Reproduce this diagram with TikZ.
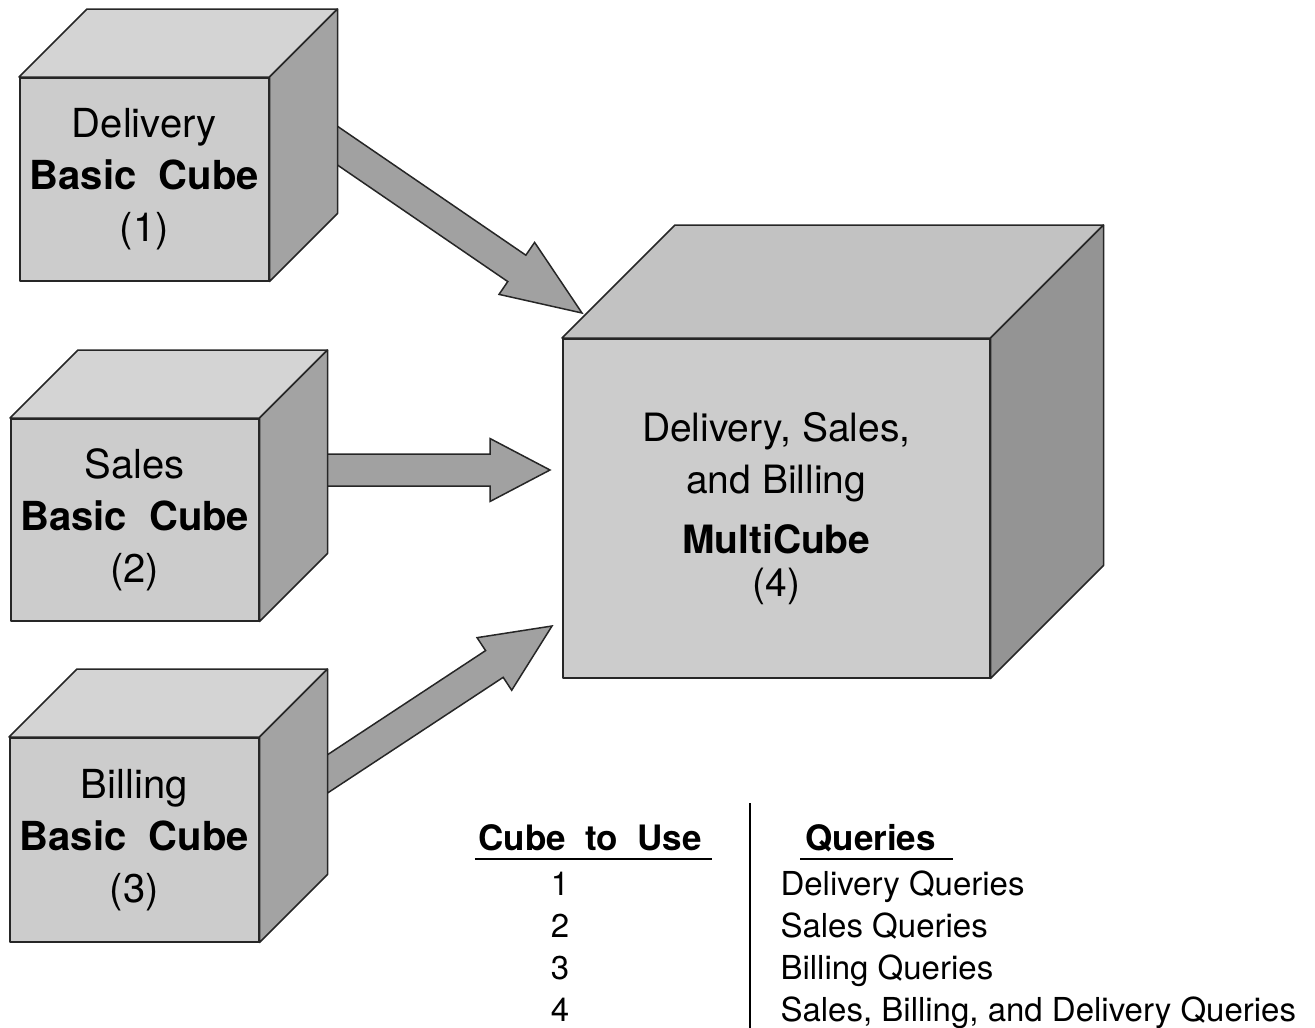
\documentclass[tikz,border=0pt]{standalone}
\usepackage{fontspec}
\setmainfont{TeX Gyre Heros}
\usetikzlibrary{calc}

\definecolor{cubefront}{gray}{0.80}
\definecolor{cubetop}{gray}{0.83}
\definecolor{cubeside}{gray}{0.64}
\definecolor{bigtop}{gray}{0.76}
\definecolor{bigside}{gray}{0.58}
\definecolor{arrowfill}{gray}{0.63}

% top and right faces of a cube, hung on the front face node
\newcommand\cubefaces[4]{% node, depth, top colour, side colour
  \draw[face,fill=#3] (#1.north west) -- ++(#2,-#2) -- ($(#1.north east)+(#2,-#2)$) -- (#1.north east) -- cycle;
  \draw[face,fill=#4] (#1.north east) -- ++(#2,-#2) -- ($(#1.south east)+(#2,-#2)$) -- (#1.south east) -- cycle;}

% fat arrow from tail to tip, #3 = head length
\newcommand\blockarrow[3]{%
  \coordinate (#1-b) at ($(#2)!#3!(#1)$);
  \draw[arrowbody] ($(#1)!16pt!90:(#2)$) -- ($(#1-b)!16pt!-90:(#1)$) -- ($(#1-b)!31.5pt!-90:(#1)$)
    -- (#2) -- ($(#1-b)!31.5pt!90:(#1)$) -- ($(#1-b)!16pt!90:(#1)$) -- ($(#1)!16pt!-90:(#2)$) -- cycle;}

\begin{document}
\begin{tikzpicture}[x=1pt,y=-1pt,
  face/.style={draw=black!85,line width=1.5pt,line join=round},
  frontface/.style={face,fill=cubefront,inner sep=0pt,align=center,anchor=north west,
    font=\fontsize{40}{52}\selectfont},
  arrowbody/.style={draw=black!85,line width=1.5pt,fill=arrowfill},
  colhead/.style={font=\fontsize{35}{42}\selectfont\bfseries,anchor=base},
  row/.style={font=\fontsize{33}{40}\selectfont,anchor=base}]

\useasboundingbox (0,0) rectangle (1315,1028);

% arrows first, the tails sit behind the cubes
\coordinate (del_out) at (300,120);
\coordinate (sal_out) at (310,470);
\coordinate (bil_out) at (300,792);
\coordinate (multi_in1) at (582,313);
\coordinate (multi_in2) at (550,470);
\coordinate (multi_in3) at (552,626);
\blockarrow{del_out}{multi_in1}{79pt}
\blockarrow{sal_out}{multi_in2}{60pt}
\blockarrow{bil_out}{multi_in3}{69pt}

% basic cubes
\node[frontface,minimum width=249pt,minimum height=203pt] (delivery) at (19,77)
  {Delivery\\\textbf{Basic\ \ Cube}\\(1)};
\cubefaces{delivery}{68}{cubetop}{cubeside}
\node[frontface,minimum width=248pt,minimum height=202pt] (sales) at (10,418)
  {Sales\\\textbf{Basic\ \ Cube}\\(2)};
\cubefaces{sales}{68}{cubetop}{cubeside}
\node[frontface,minimum width=249pt,minimum height=204pt] (billing) at (9,737)
  {Billing\\\textbf{Basic\ \ Cube}\\(3)};
\cubefaces{billing}{68}{cubetop}{cubeside}

% multicube
\node[frontface,minimum width=427pt,minimum height=339pt,font=\fontsize{39}{52}\selectfont] (multi) at (562,338)
  {Delivery, Sales,\\and Billing\\[8pt]\textbf{MultiCube}\\[-9pt](4)};
\cubefaces{multi}{113}{bigtop}{bigside}

% table
\node[colhead] (usehead) at (590,850) {Cube\ \ to\ \ Use};
\node[colhead,anchor=base west] (qhead) at (802,850) {Queries};
\draw[line width=1.5pt] ($(usehead.base west)+(0,9)$) -- ($(usehead.base east)+(7,9)$);
\draw[line width=1.5pt] ($(qhead.base west)+(-2,9)$) -- ($(qhead.base east)+(14,9)$);
\coordinate (div_top) at (750,803);
\coordinate (div_bot) at (750,1028);
\draw[line width=1.5pt] (div_top) -- (div_bot);
\foreach \n/\q [count=\i] in {1/Delivery Queries,2/Sales Queries,3/Billing Queries,
    4/{Sales, Billing, and Delivery Queries}}{
  \node[row] (num\i) at (560,853+42*\i) {\n};
  \node[row,anchor=base west] (query\i) at (777,853+42*\i) {\q};
}
\end{tikzpicture}
\end{document}
